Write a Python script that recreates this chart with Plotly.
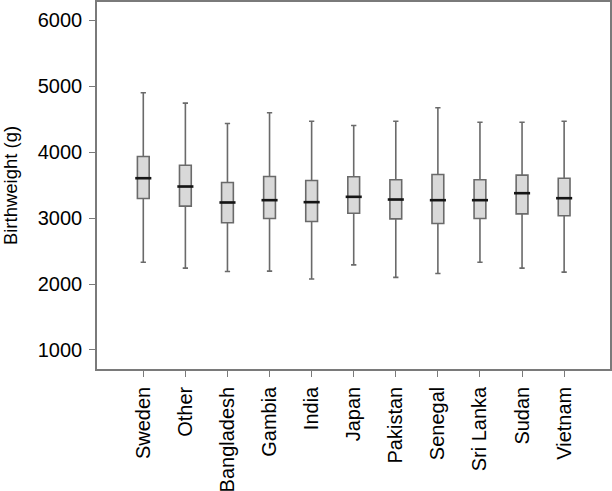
import plotly.graph_objects as go

countries = ["Sweden", "Other", "Bangladesh", "Gambia", "India", "Japan",
             "Pakistan", "Senegal", "Sri Lanka", "Sudan", "Vietnam"]
lower_whisker = [2330, 2240, 2190, 2195, 2075, 2290, 2100, 2160, 2330, 2240, 2180]
q1 = [3295, 3180, 2927, 2992, 2947, 3073, 2987, 2917, 2992, 3063, 3033]
median = [3603, 3477, 3235, 3270, 3240, 3321, 3280, 3270, 3270, 3376, 3300]
q3 = [3932, 3800, 3538, 3629, 3568, 3624, 3579, 3659, 3579, 3649, 3603]
upper_whisker = [4897, 4740, 4432, 4594, 4467, 4402, 4467, 4670, 4452, 4452, 4467]
y_ticks = [1000, 2000, 3000, 4000, 5000, 6000]

fig = go.Figure()
fig.add_trace(go.Box(
    x=countries, q1=q1, median=median, q3=q3,
    lowerfence=lower_whisker, upperfence=upper_whisker,
    fillcolor="#d9d9d9",
    line=dict(color="#6a6a6a", width=1.6),
    width=0.28, whiskerwidth=0.45,
    boxpoints=False, showlegend=False, hoverinfo="skip",
))
fig.add_trace(go.Scatter(
    x=countries, y=median, mode="markers",
    marker=dict(symbol="line-ew", size=11.5, line=dict(color="#151515", width=2.6)),
    showlegend=False, hoverinfo="skip",
))

axis_common = dict(showline=True, linecolor="#7a7a7a", linewidth=1.5, mirror=True,
                   ticks="outside", ticklen=6, tickwidth=1.2, tickcolor="#7a7a7a",
                   showgrid=False, zeroline=False, automargin=False,
                   tickfont=dict(family="Liberation Sans, Arial", size=20, color="#000"))

fig.update_layout(
    width=612, height=491,
    margin=dict(l=97, r=2, t=2, b=122),
    paper_bgcolor="white", plot_bgcolor="white",
    font=dict(family="Liberation Sans, Arial", color="#000"),
    xaxis=dict(**axis_common, type="category", range=[-1.1, 11.09],
               tickangle=-90, ticklabelstandoff=2),
    yaxis=dict(**axis_common, range=[712, 6273], tickvals=y_ticks,
               ticktext=[str(v) for v in y_ticks], ticklabelstandoff=3,
               title=dict(text="Birthweight (g)", font=dict(size=18.5), standoff=17)),
)

fig.write_html("out.html", config={"displayModeBar": False},
               post_script="document.body.style.margin='0';document.body.style.overflow='hidden';")
